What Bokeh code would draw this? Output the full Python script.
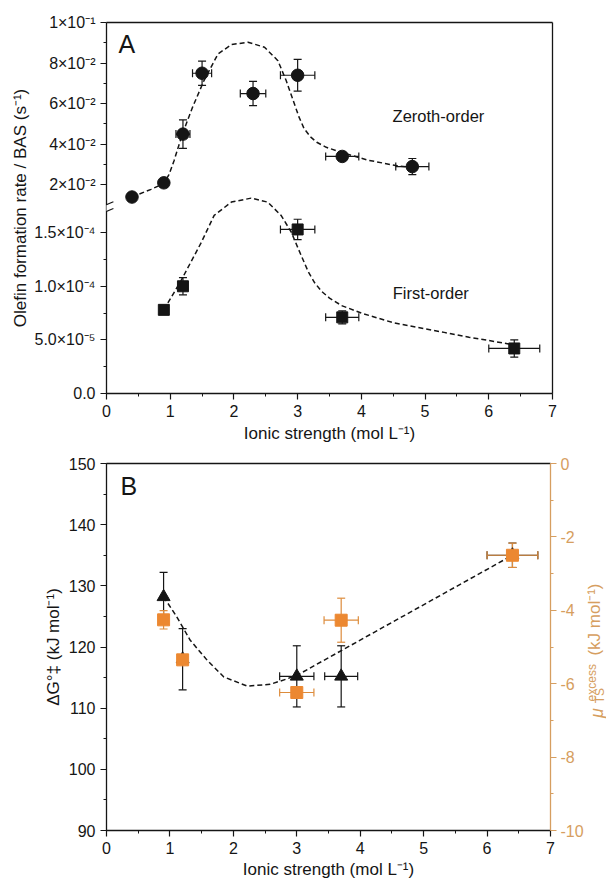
import math
from bokeh.plotting import figure
from bokeh.models import (Range1d, LinearAxis, FixedTicker, SingleIntervalTicker, Whisker,
                          TeeHead, ColumnDataSource, Label, Arrow)
from bokeh.layouts import column, row
from bokeh.embed import file_html
from bokeh.resources import INLINE

FONT = "Liberation Sans"
INK = "#151515"
ORANGE = "#EC8831"
ORANGE_AXIS = "#D69E60"

# ---------------- Panel A data ----------------
zero_x = [0.4, 0.9, 1.2, 1.5, 2.3, 3.0, 3.7, 4.8]
zero_y = [0.0140, 0.0210, 0.0450, 0.0750, 0.0650, 0.0740, 0.0340, 0.0290]
zero_yerr = [0.0, 0.0, 0.0070, 0.0060, 0.0060, 0.0078, 0.0021, 0.0040]
zero_xerr = [0.0, 0.0, 0.11, 0.15, 0.20, 0.27, 0.26, 0.26]

zero_fit_x = [0.4, 0.51, 0.7, 0.9, 0.98, 1.06, 1.19, 1.35, 1.53, 1.75, 1.96, 2.22, 2.48,
              2.69, 2.82, 2.95, 3.02, 3.1, 3.2, 3.3, 3.45, 3.69, 4.1, 4.56, 4.8]
zero_fit_y = [0.0140, 0.0154, 0.0178, 0.0207, 0.0250, 0.0319, 0.0450, 0.0582, 0.0714, 0.0845,
              0.0891, 0.0903, 0.0878, 0.0812, 0.0714, 0.0598, 0.0535, 0.0478, 0.0437, 0.0410,
              0.0385, 0.0360, 0.0322, 0.0294, 0.0286]

first_x = [0.9, 1.2, 3.0, 3.7, 6.4]
first_y = [7.8e-5, 1.00e-4, 1.53e-4, 7.1e-5, 4.2e-5]
first_yerr = [0.0, 8e-6, 9.5e-6, 6e-6, 8e-6]
first_xerr = [0.0, 0.05, 0.27, 0.26, 0.40]

first_fit_x = [0.9, 1.17, 1.48, 1.69, 1.96, 2.27, 2.53, 2.74, 2.90, 3.01, 3.17, 3.27, 3.38,
               3.5, 3.69, 4.0, 4.5, 4.85, 5.3, 5.69, 6.0, 6.37]
first_fit_y = [7.8e-5, 1.053e-4, 1.40e-4, 1.661e-4, 1.785e-4, 1.822e-4, 1.785e-4, 1.661e-4,
               1.505e-4, 1.35e-4, 1.131e-4, 1.03e-4, 9.5e-5, 8.9e-5, 8.2e-5, 7.5e-5, 6.6e-5,
               6.2e-5, 5.7e-5, 5.25e-5, 4.95e-5, 4.55e-5]

low_major = [0.0, 5e-5, 1e-4, 1.5e-4]
low_labels = ["0.0", "5.0×10⁻⁵", "1.0×10⁻⁴", "1.5×10⁻⁴"]
low_minor = [2.5e-5, 7.5e-5, 1.25e-4]
up_major = [0.02, 0.04, 0.06, 0.08, 0.10]
up_labels = ["2×10⁻²", "4×10⁻²", "6×10⁻²", "8×10⁻²", "1×10⁻¹"]
up_minor = [0.03, 0.05, 0.07, 0.09]

# ---------------- Panel B data ----------------
dg_x = [0.9, 1.2, 3.0, 3.7, 6.4]
dg_y = [128.2, 118.0, 115.2, 115.2, 135.0]
dg_yerr = [4.0, 5.0, 5.0, 5.0, 2.0]
dg_xerr = [0.0, 0.0, 0.27, 0.26, 0.40]

mu_x = [0.9, 1.2, 3.0, 3.7, 6.4]
mu_y = [-4.26, -5.35, -6.24, -4.27, -2.50]
mu_yerr = [0.25, 0.10, 0.15, 0.60, 0.33]
mu_xerr = [0.0, 0.0, 0.27, 0.27, 0.40]

dg_fit_x = [0.9, 1.11, 1.32, 1.59, 1.85, 2.22, 2.58, 2.85, 3.06, 6.4]
dg_fit_y = [128.2, 124.9, 121.1, 117.8, 115.1, 113.6, 113.9, 114.8, 115.7, 135.0]

mu_ticks = [-10, -8, -6, -4, -2, 0]
mu_tick_labels = ["-10", "-8", "-6", "-4", "-2", "0"]
mu_minor = [-9, -7, -5, -3, -1]

# ---------------- helpers ----------------
def style_axis(ax, color=INK, label_size="17px"):
    ax.axis_line_color = color
    ax.axis_line_width = 1.3
    ax.major_tick_line_color = color
    ax.minor_tick_line_color = color
    ax.major_tick_line_width = 1.2
    ax.minor_tick_line_width = 1.0
    ax.major_tick_in = 0
    ax.major_tick_out = 6
    ax.minor_tick_in = 0
    ax.minor_tick_out = 3
    ax.major_label_text_font = FONT
    ax.major_label_text_font_size = "16px"
    ax.major_label_text_color = color
    ax.major_label_standoff = 5
    ax.axis_label_text_font = FONT
    ax.axis_label_text_font_size = label_size
    ax.axis_label_text_font_style = "normal"
    ax.axis_label_text_color = color


def plain_axis(p, side, y_range_name="default"):
    ax = LinearAxis(ticker=FixedTicker(ticks=[]), y_range_name=y_range_name)
    ax.axis_line_color = INK
    ax.axis_line_width = 1.3
    ax.major_tick_out = 0
    ax.minor_tick_out = 0
    ax.major_label_text_font_size = "0px"
    p.add_layout(ax, side)


def error_bars(p, xs, ys, xerr, yerr, color, y_range_name="default"):
    vv = [(x, y, e) for x, y, e in zip(xs, ys, yerr) if e > 0]
    if vv:
        src = ColumnDataSource(dict(base=[v[0] for v in vv],
                                    lower=[v[1] - v[2] for v in vv],
                                    upper=[v[1] + v[2] for v in vv]))
        p.add_layout(Whisker(source=src, base="base", lower="lower", upper="upper",
                             dimension="height", line_color=color, line_width=1.2,
                             upper_head=TeeHead(size=8, line_color=color, line_width=1.2),
                             lower_head=TeeHead(size=8, line_color=color, line_width=1.2),
                             y_range_name=y_range_name, level="underlay"))
    hh = [(x, y, e) for x, y, e in zip(xs, ys, xerr) if e > 0]
    if hh:
        src = ColumnDataSource(dict(base=[v[1] for v in hh],
                                    lower=[v[0] - v[2] for v in hh],
                                    upper=[v[0] + v[2] for v in hh]))
        p.add_layout(Whisker(source=src, base="base", lower="lower", upper="upper",
                             dimension="width", line_color=color, line_width=1.2,
                             upper_head=TeeHead(size=8, line_color=color, line_width=1.2),
                             lower_head=TeeHead(size=8, line_color=color, line_width=1.2),
                             y_range_name=y_range_name, level="underlay"))


# ---------------- Panel A ----------------
LOW_MAX = 1.73e-4          # top of lower (first-order) segment
UP_MIN, UP_MAX = 0.0086, 0.10  # visible part of upper (zeroth-order) segment
y_low = Range1d(0, 2 * LOW_MAX)
y_up = Range1d(UP_MIN - (UP_MAX - UP_MIN), UP_MAX)


def up_to_low(v):
    return (v - y_up.start) / (y_up.end - y_up.start) * (y_low.end - y_low.start) + y_low.start


pA = figure(width=606, height=448, x_range=Range1d(0, 7), y_range=y_low,
            output_backend="svg", toolbar_location=None,
            min_border_left=106, min_border_right=54, min_border_top=22, min_border_bottom=55,
            outline_line_color=None, background_fill_color="white", border_fill_color="white")
pA.extra_y_ranges = {"upper": y_up}
pA.grid.visible = False

xa = pA.xaxis[0]
xa.ticker = SingleIntervalTicker(interval=1, num_minor_ticks=2)
xa.axis_label = "Ionic strength (mol L⁻¹)"
style_axis(xa)
xa.axis_label_standoff = 4

ya = pA.yaxis[0]
major_ticks = low_major + [up_to_low(v) for v in up_major]
minor_ticks = low_minor + [up_to_low(v) for v in up_minor]
ya.ticker = FixedTicker(ticks=major_ticks, minor_ticks=minor_ticks)
overrides = {t: s for t, s in zip(low_major, low_labels)}
overrides.update({up_to_low(v): s for v, s in zip(up_major, up_labels)})
ya.major_label_overrides = overrides
ya.axis_label = "Olefin formation rate / BAS (s⁻¹)"
style_axis(ya)
ya.axis_label_standoff = 1

plain_axis(pA, "above")
plain_axis(pA, "right")

# fitted curves
pA.line(zero_fit_x, zero_fit_y, y_range_name="upper", line_color=INK, line_width=1.5,
        line_dash="5 3")
pA.line(first_fit_x, first_fit_y, line_color=INK, line_width=1.5, line_dash="5 3")

error_bars(pA, zero_x, zero_y, zero_xerr, zero_yerr, INK, "upper")
error_bars(pA, first_x, first_y, first_xerr, first_yerr, INK)

pA.scatter(zero_x, zero_y, y_range_name="upper", marker="circle", size=12.5,
           fill_color=INK, line_color=INK)
pA.scatter(first_x, first_y, marker="square", size=11, fill_color=INK, line_color=INK)

# axis break marks
px_y = (y_low.end - y_low.start) / 371.0
px_x = 7.0 / 446.0
pA.add_layout(Arrow(end=None, start=None, x_start=0, x_end=0,
                    y_start=LOW_MAX - 3.0 * px_y, y_end=LOW_MAX + 3.0 * px_y,
                    line_color="white", line_width=4))
for off in (-3.4, 3.4):
    pA.add_layout(Arrow(end=None, start=None,
                        x_start=-6.9 * px_x, x_end=6.9 * px_x,
                        y_start=LOW_MAX + (off - 2.9) * px_y,
                        y_end=LOW_MAX + (off + 2.9) * px_y,
                        line_color=INK, line_width=1.2))

pA.add_layout(Label(x=0.19, y=0.0894, y_range_name="upper", text="A", text_font=FONT,
                    text_font_size="25px", text_color=INK, text_baseline="middle",
                    text_align="left"))
pA.add_layout(Label(x=5.21, y=0.0541, y_range_name="upper", text="Zeroth-order",
                    text_font=FONT, text_font_size="16.5px", text_color=INK,
                    text_baseline="middle", text_align="center"))
pA.add_layout(Label(x=5.09, y=9.41e-5, text="First-order", text_font=FONT,
                    text_font_size="16.5px", text_color=INK, text_baseline="middle",
                    text_align="center"))

# ---------------- Panel B ----------------
B_TOP, B_BOTTOM = 15, 50
pB = figure(width=586, height=433, x_range=Range1d(0, 7), y_range=Range1d(90, 150),
            output_backend="svg", toolbar_location=None,
            min_border_left=106, min_border_right=34, min_border_top=B_TOP,
            min_border_bottom=B_BOTTOM,
            outline_line_color=None, background_fill_color="white", border_fill_color="white")
pB.extra_y_ranges = {"mu": Range1d(-10, 0)}
pB.grid.visible = False

xb = pB.xaxis[0]
xb.ticker = SingleIntervalTicker(interval=1, num_minor_ticks=2)
xb.axis_label = "Ionic strength (mol L⁻¹)"
style_axis(xb)
xb.major_label_standoff = 5
xb.axis_label_standoff = 3

yb = pB.yaxis[0]
yb.ticker = SingleIntervalTicker(interval=10, num_minor_ticks=2)
yb.axis_label = "ΔG°‡ (kJ mol⁻¹)"
style_axis(yb)
yb.axis_label_standoff = 3

yr = LinearAxis(y_range_name="mu", ticker=FixedTicker(ticks=mu_ticks, minor_ticks=mu_minor))
yr.major_label_overrides = {t: s for t, s in zip(mu_ticks, mu_tick_labels)}
style_axis(yr, color=ORANGE_AXIS)
yr.major_label_standoff = 4
pB.add_layout(yr, "right")
plain_axis(pB, "above")

pB.line(dg_fit_x, dg_fit_y, line_color=INK, line_width=1.5, line_dash="5 3")

error_bars(pB, dg_x, dg_y, dg_xerr, dg_yerr, INK)
pB.scatter(dg_x, dg_y, marker="triangle", size=13, fill_color=INK, line_color=INK)
error_bars(pB, mu_x, mu_y, mu_xerr, mu_yerr, "#DD8C3C", "mu")
pB.scatter(mu_x, mu_y, y_range_name="mu", marker="square", size=12,
           fill_color=ORANGE, line_color=ORANGE)

pB.add_layout(Label(x=0.22, y=146.3, text="B", text_font=FONT, text_font_size="25px",
                    text_color=INK, text_baseline="middle", text_align="left"))

# ---------------- right-hand title strip for panel B ----------------
# narrow companion figure; its frame lines up with panel B's frame, same y scale
pT = figure(width=20, height=433, x_range=Range1d(0, 20), y_range=Range1d(90, 150),
            output_backend="svg", toolbar_location=None, title=None,
            x_axis_location=None, y_axis_location=None,
            min_border=0, min_border_left=0, min_border_right=0, min_border_top=B_TOP,
            min_border_bottom=B_BOTTOM,
            outline_line_color=None, background_fill_color="white", border_fill_color="white")
pT.grid.visible = False
ang = math.pi / 2


def ylab(text, x, y, size, style="normal"):
    pT.add_layout(Label(x=x, y=y, text=text, angle=ang, text_font=FONT,
                        text_font_size=size, text_font_style=style,
                        text_color=ORANGE_AXIS, text_baseline="middle", text_align="left"))


ylab("μ", 10, 108.4, "18px", "italic")
ylab("excess", 5.5, 111.1, "12px")
ylab("TS", 13.5, 110.8, "12px")
ylab("(kJ mol⁻¹)", 8, 118.6, "17px")

layout = column(pA, row(pB, pT))
open("out.html", "w").write(file_html(layout, INLINE))
